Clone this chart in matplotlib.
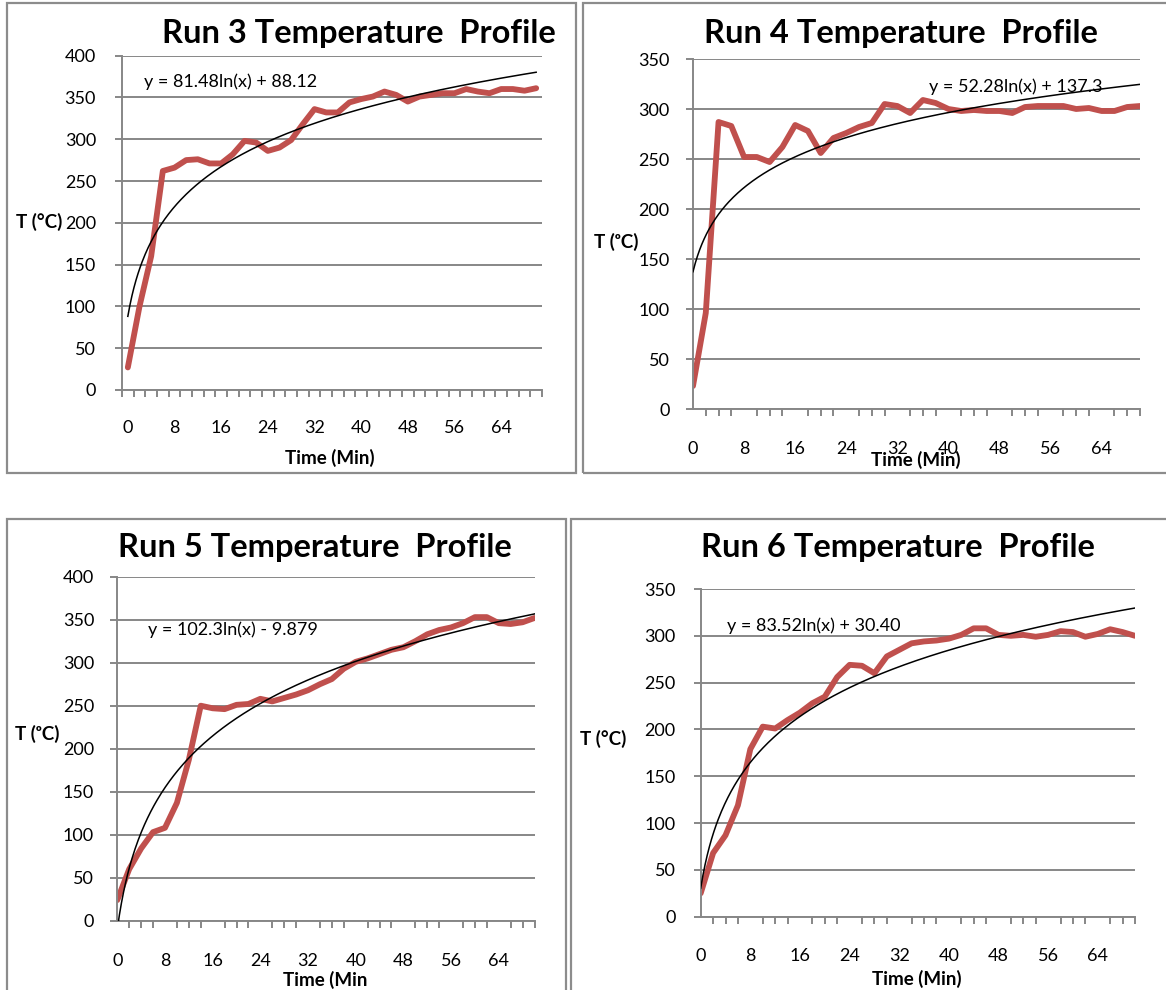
import numpy as np
import matplotlib
matplotlib.use('Agg')
import matplotlib.pyplot as plt
from matplotlib.patches import Rectangle

plt.rcParams['font.family'] = ['Lato', 'DejaVu Sans']

W, H = 1166, 990
GRID = '#878787'
RED = '#C0504D'

# sampling times (min), one reading every 2 minutes
minutes = list(range(0, 72, 2))

# measured temperatures (deg C)
run3_temp = [27, 100, 160, 262, 266, 275, 276, 271, 271, 282, 298, 296, 286, 290, 299, 318, 336, 332,
             332, 344, 348, 351, 357, 353, 345, 351, 353, 355, 355, 360, 357, 355, 360, 360, 358, 361]
run4_temp = [23, 96, 287, 283, 252, 252, 247, 262, 284, 278, 256, 271, 276, 282, 286, 305, 303, 296,
             309, 306, 300, 298, 299, 298, 298, 296, 302, 303, 303, 303, 300, 301, 298, 298, 302, 303]
run5_temp = [24, 60, 84, 103, 108, 137, 187, 250, 247, 246, 251, 252, 258, 255, 259, 263, 268, 275,
             281, 293, 301, 305, 310, 315, 318, 325, 333, 338, 341, 346, 353, 353, 346, 345, 347, 352]
run6_temp = [25, 68, 87, 119, 179, 203, 201, 210, 218, 228, 235, 256, 269, 268, 260, 278, 285, 292,
             294, 295, 297, 301, 308, 308, 301, 300, 301, 299, 301, 305, 304, 299, 302, 307, 304, 300]

# logarithmic trendlines  y = a*ln(x) + b  (x = sample number)
run3_fit = (81.48, 88.12)
run4_fit = (52.28, 137.3)
run5_fit = (102.3, -9.879)
run6_fit = (83.52, 30.40)

run3_eq = 'y = 81.48ln(x) + 88.12'
run4_eq = 'y = 52.28ln(x) + 137.3'
run5_eq = 'y = 102.3ln(x) - 9.879'
run6_eq = 'y = 83.52ln(x) + 30.40'


def fx(x):
    return x / W


def fy(y):
    return 1 - y / H


def draw_panel(fig, box, rect, title, title_xy, temps, fit, eq, eq_xy,
               ylab, ylab_xy, xlab, xlab_xy, ymax, between, ypad, xoff):
    # panel frame
    bx0, by0, bx1, by1 = box
    fig.patches.append(Rectangle((fx(bx0), fy(by1)), fx(bx1 - bx0), (by1 - by0) / H,
                                 transform=fig.transFigure, fill=False,
                                 edgecolor='#8c8c8c', lw=1.6))

    x0, y0, x1, y1 = rect
    ax = fig.add_axes([fx(x0), fy(y1), fx(x1 - x0), (y1 - y0) / H])

    n = len(temps)
    off = 0.5 if between else 0.0
    xs = np.arange(n) + off

    # measured profile
    ax.plot(xs, temps, color=RED, lw=4.2, solid_joinstyle='round', solid_capstyle='round', zorder=2)

    # fitted trendline
    a, b = fit
    k = np.linspace(1, n, 400)
    ax.plot(k - 1 + off, a * np.log(k) + b, color='black', lw=1.1, zorder=3)

    ax.set_ylim(0, ymax)
    if between:
        ax.set_xlim(0, n)
        edges = np.arange(0, n + 1)
    else:
        ax.set_xlim(0, n - 1)
        edges = np.arange(0, n)

    ax.set_yticks(np.arange(0, ymax + 1, 50))
    ax.yaxis.grid(True, color=GRID, lw=1.4)
    ax.set_axisbelow(True)
    ax.tick_params(axis='y', length=5, width=1.4, color=GRID, labelsize=13, pad=ypad)

    ax.set_xticks(xs[::4])
    ax.set_xticklabels([str(m) for m in minutes[::4]], va='center')
    ax.set_xticks(edges, minor=True)
    ax.tick_params(axis='x', which='major', length=0, labelsize=13, pad=xoff)
    ax.tick_params(axis='x', which='minor', length=5, width=1.4, color=GRID)

    for side in ('top', 'right'):
        ax.spines[side].set_visible(False)
    for side in ('left', 'bottom'):
        ax.spines[side].set_color(GRID)
        ax.spines[side].set_linewidth(1.4)

    fig.text(fx(title_xy[0]), fy(title_xy[1]), title, ha='center', va='baseline',
             fontsize=23.5, fontweight='bold')
    fig.text(fx(eq_xy[0]), fy(eq_xy[1]), eq, ha='left', va='center', fontsize=13)
    fig.text(fx(ylab_xy[0]), fy(ylab_xy[1]), ylab, ha='center', va='center',
             fontsize=13.5, fontweight='bold')
    fig.text(fx(xlab_xy[0]), fy(xlab_xy[1]), xlab, ha='center', va='center',
             fontsize=13.5, fontweight='bold')
    return ax


fig = plt.figure(figsize=(W / 100, H / 100), dpi=100)

draw_panel(fig, (7, 3, 576, 473), (122, 55.6, 542, 390), 'Run 3 Temperature  Profile', (359, 43),
           run3_temp, run3_fit, run3_eq, (144, 81.5), 'T (°C)', (39, 222), 'Time (Min)', (330, 458),
           400, True, 13.7, 27.7)
draw_panel(fig, (583, 3, 1175, 473), (693, 59, 1140, 409), 'Run 4 Temperature  Profile', (901, 43),
           run4_temp, run4_fit, run4_eq, (929, 86.5), 'T (ᵒC)', (616, 242), 'Time (Min)', (916, 459.5),
           350, False, 11.7, 28.8)
draw_panel(fig, (7, 519, 566, 1000), (117.3, 576.7, 534.5, 920.7), 'Run 5 Temperature  Profile', (315, 557.5),
           run5_temp, run5_fit, run5_eq, (147.5, 630), 'T (ᵒC)', (37, 734), 'Time (Min', (325, 980),
           400, False, 11.7, 29)
draw_panel(fig, (571, 519, 1175, 1000), (700.7, 589, 1135, 916.7), 'Run 6 Temperature  Profile', (897.5, 557),
           run6_temp, run6_fit, run6_eq, (727, 625.5), 'T (°C)', (603, 739), 'Time (Min)', (917, 979),
           350, False, 13, 28.3)

fig.savefig('out.png', dpi=100)
